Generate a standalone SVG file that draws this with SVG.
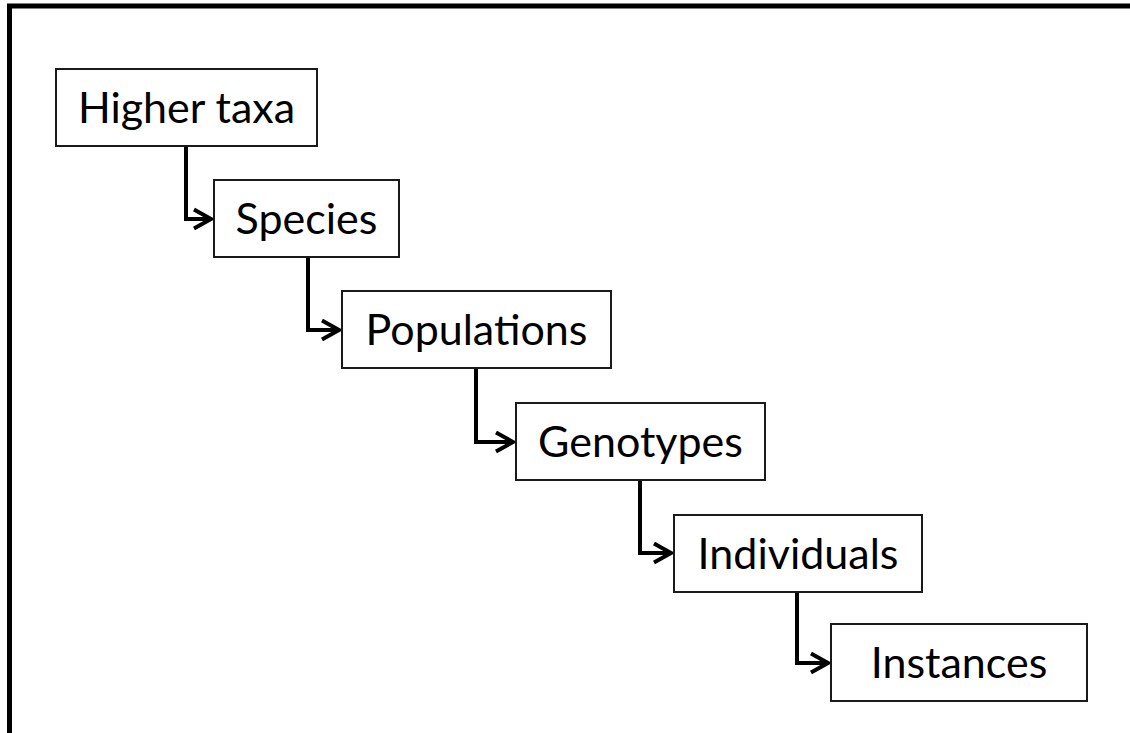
<svg xmlns="http://www.w3.org/2000/svg" width="1130" height="733" viewBox="0 0 1130 733">
<defs>
<style>
.box{fill:#fff;stroke:#1a1a1a;stroke-width:2}
.lbl{font-family:Lato,"Liberation Sans",sans-serif;font-size:43px;fill:#000;text-anchor:middle}
.conn{fill:none;stroke:#000;stroke-width:4;stroke-linejoin:miter}
</style>
<marker id="arr" markerUnits="userSpaceOnUse" markerWidth="30" markerHeight="30" refX="0" refY="0" viewBox="-20 -15 30 30" orient="auto" overflow="visible">
<path d="M-17,-9.5 L0,0 L-17,9.5" fill="none" stroke="#000" stroke-width="4"/>
</marker>
</defs>
<rect x="9.5" y="6" width="1140" height="760" fill="#fff" stroke="#000" stroke-width="5"/>
<g id="connectors">
<path class="conn" d="M186,146 V219 H211" marker-end="url(#arr)"/>
<path class="conn" d="M308,257 V330 H339" marker-end="url(#arr)"/>
<path class="conn" d="M476,368 V442 H513" marker-end="url(#arr)"/>
<path class="conn" d="M640,480 V553 H671" marker-end="url(#arr)"/>
<path class="conn" d="M797,592 V663 H828" marker-end="url(#arr)"/>
</g>
<g id="node-higher-taxa">
<rect class="box" x="56" y="69" width="261" height="77"/>
<text class="lbl" x="186.5" y="123">Higher taxa</text>
</g>
<g id="node-species">
<rect class="box" x="214" y="180" width="185" height="77"/>
<text class="lbl" x="306.5" y="234">Species</text>
</g>
<g id="node-populations">
<rect class="box" x="342" y="291" width="269" height="77"/>
<text class="lbl" x="476.5" y="345">Populations</text>
</g>
<g id="node-genotypes">
<rect class="box" x="516" y="403" width="249" height="77"/>
<text class="lbl" x="640.5" y="457">Genotypes</text>
</g>
<g id="node-individuals">
<rect class="box" x="674" y="515" width="248" height="77"/>
<text class="lbl" x="798" y="569">Individuals</text>
</g>
<g id="node-instances">
<rect class="box" x="831" y="624" width="256" height="77"/>
<text class="lbl" x="959" y="678">Instances</text>
</g>
</svg>
